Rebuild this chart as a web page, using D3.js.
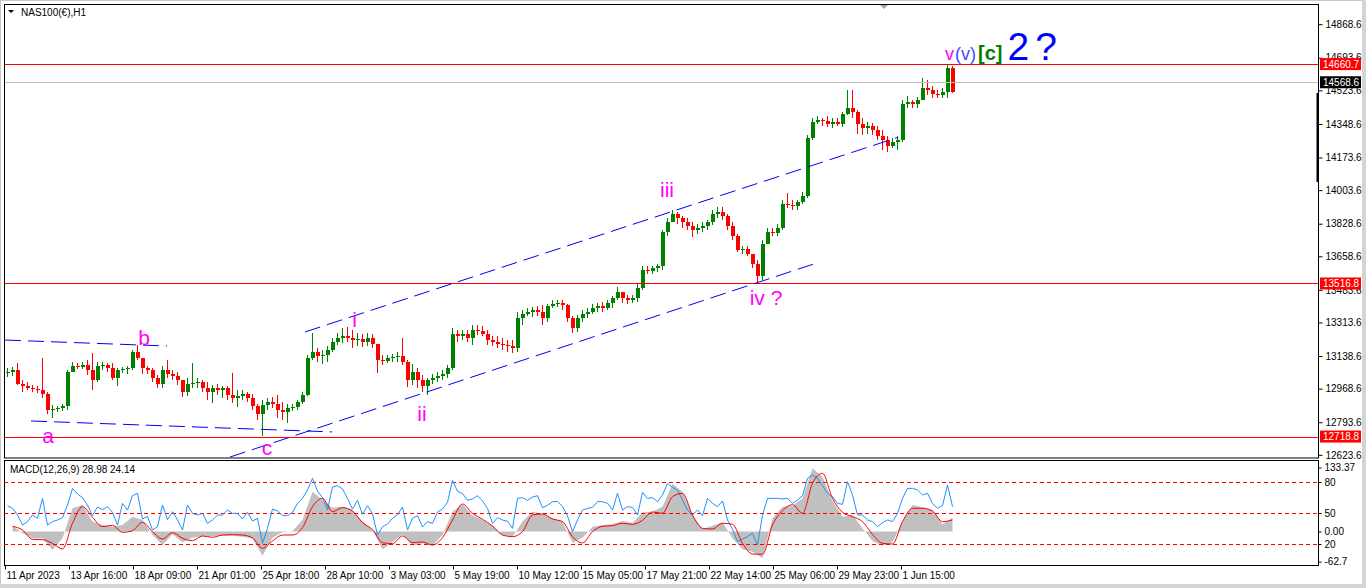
<!DOCTYPE html>
<html><head><meta charset="utf-8">
<script src="https://cdn.jsdelivr.net/npm/d3@7"></script>
<style>
body{margin:0;background:#fff;overflow:hidden;}
svg{display:block;font-family:"Liberation Sans",Arial,sans-serif;}
</style>
</head><body>
<svg id="c" width="1366" height="588"></svg>
<script>
// ---------------- DATA ----------------
const symbolTitle = "NAS100(€),H1";
const macdTitle = "MACD(12,26,9) 28.98 24.14";
const hoursPerBar = 5;
const firstOpen = 13055;
const highs = [
13076,13081,13102,13014,13003,12988,12982,13128,12951,12883,
12878,12889,13066,13108,13102,13108,13118,13154,13108,13108,
13102,13102,13076,13081,13087,13170,13196,13118,13087,13076,
13040,13087,13118,13066,13055,13014,13024,13102,13024,13014,
13003,12988,12993,12982,12982,13050,12962,12962,12951,12941,
12889,12909,12920,12925,12935,12899,12889,12889,12909,12951,
13144,13259,13180,13170,13191,13233,13259,13285,13290,13274,
13259,13253,13259,13253,13201,13144,13144,13149,13160,13233,
13118,13097,13076,13040,13024,13045,13055,13066,13092,13285,
13274,13274,13274,13300,13300,13295,13274,13243,13243,13233,
13222,13222,13368,13379,13389,13394,13399,13405,13410,13431,
13431,13431,13410,13347,13353,13379,13389,13410,13415,13420,
13431,13452,13499,13472,13457,13457,13519,13608,13608,13608,
13619,13796,13858,13900,13890,13869,13858,13837,13827,13837,
13848,13900,13916,13916,13879,13837,13775,13712,13712,13671,
13639,13744,13806,13806,13827,13952,13989,13952,13952,13994,
14291,14380,14390,14380,14390,14380,14380,14411,14526,14526,
14421,14380,14359,14354,14338,14317,14286,14275,14286,14474,
14494,14474,14489,14588,14578,14547,14526,14536,14660,14650];
const lows = [
13029,13034,12988,12951,12962,12951,12946,12920,12836,12816,
12847,12852,12857,13055,13071,13071,13040,12962,13003,13066,
13055,13014,12982,13050,13045,13066,13118,13045,13045,13003,
12972,12972,13024,13014,12988,12925,12930,12972,12972,12951,
12909,12894,12935,12920,12909,12894,12873,12909,12899,12857,
12805,12722,12857,12868,12816,12805,12789,12852,12857,12889,
12930,13118,13108,13097,13108,13160,13196,13207,13212,13180,
13191,13186,13191,13180,13050,13092,13102,13108,13108,13092,
12977,12988,12972,12951,12935,12993,13003,13014,13024,13066,
13212,13222,13212,13196,13248,13243,13196,13191,13180,13170,
13160,13154,13160,13300,13347,13342,13347,13300,13316,13389,
13394,13379,13316,13259,13264,13316,13337,13358,13368,13368,
13379,13389,13431,13415,13410,13415,13420,13483,13566,13566,
13577,13587,13764,13837,13827,13806,13796,13759,13775,13785,
13796,13822,13858,13848,13796,13744,13681,13671,13660,13598,
13519,13535,13744,13764,13764,13796,13910,13900,13900,13931,
13963,14265,14348,14338,14333,14328,14338,14333,14395,14380,
14296,14291,14296,14291,14265,14213,14202,14223,14213,14255,
14432,14432,14432,14474,14500,14484,14484,14484,14484,14510];
const closes = [
13055,13066,12993,12982,12972,12967,12962,12941,12857,12862,
12868,12878,13055,13087,13082,13092,13066,13014,13087,13092,
13076,13024,13066,13071,13076,13160,13128,13076,13066,13024,
12993,13066,13045,13034,13014,12951,12993,12998,13003,12972,
12951,12972,12962,12972,12935,12920,12930,12941,12920,12878,
12836,12883,12899,12889,12857,12847,12868,12873,12899,12935,
13128,13160,13139,13144,13170,13212,13233,13243,13233,13222,
13227,13212,13233,13201,13118,13113,13128,13134,13139,13108,
13014,13055,13014,12982,13014,13024,13034,13045,13076,13253,
13243,13253,13233,13274,13269,13253,13222,13212,13201,13196,
13191,13180,13337,13358,13368,13379,13368,13337,13399,13410,
13415,13405,13337,13285,13337,13358,13368,13389,13399,13389,
13415,13441,13472,13441,13431,13441,13493,13587,13582,13598,
13608,13785,13837,13879,13858,13837,13817,13796,13806,13817,
13837,13879,13890,13869,13817,13764,13692,13697,13671,13619,
13556,13723,13785,13780,13806,13931,13926,13921,13942,13973,
14275,14359,14369,14364,14348,14359,14348,14401,14432,14411,
14348,14328,14338,14317,14286,14265,14234,14255,14265,14453,
14463,14453,14474,14536,14526,14505,14500,14515,14640,14515];

const timeLabels = ["11 Apr 2023","13 Apr 16:00","18 Apr 09:00","21 Apr 01:00","25 Apr 18:00","28 Apr 10:00","3 May 03:00","5 May 19:00","10 May 12:00","15 May 05:00","17 May 21:00","22 May 14:00","25 May 06:00","29 May 23:00","1 Jun 15:00"];
const timeTickHours = [0,64,128,192,256,320,384,448,512,576,640,704,768,832,896];
const priceTicks = [14868.6,14693.6,14523.6,14348.6,14173.6,14003.6,13828.6,13658.6,13483.6,13313.6,13138.6,12968.6,12793.6,12623.6];
const levelPrices = [14660.7,13516.8,12718.8];
const bidPrice = 14568.6;

const macdStepHours = 10;
const macdFirstHour = 7.5;
const macdHist = [
12.2,-3.8,-14.2,-14.2,-38.5,-14.2,48.3,55.3,20.6,13.6,
10.1,13.6,31.0,24.0,-7.3,-28.1,-5.9,-22.5,-12.8,-9.3,
-9.3,-8.6,-8.6,-10.7,-14.2,-50.3,-12.8,-1.7,1.1,24.0,
83.0,65.7,49.7,51.8,44.8,20.6,3.2,-37.1,-22.5,-5.9,
-29.5,-24.6,-29.5,-7.3,41.4,56.6,33.1,24.0,12.2,-7.3,
-10.7,20.6,41.4,35.8,27.5,20.6,-23.2,-12.8,10.1,13.6,
15.0,21.9,17.7,40.0,41.4,51.8,99.7,83.0,34.4,5.2,
12.2,19.2,-14.2,-37.1,-42.0,-55.9,27.5,51.8,53.2,69.1,
131.6,114.3,63.6,31.0,34.4,6.6,-19.7,-29.5,-22.5,20.6,
55.3,50.4,44.8,15.0,29.0];
const macdSignal = [
10.8,3.2,-16.3,-17.0,-24.6,-36.4,17.1,51.8,29.6,10.1,
12.9,-1.7,1.8,19.2,-0.3,-15.6,-2.4,-14.2,-19.0,-9.3,
-12.1,-7.3,-6.6,-7.3,-13.5,-35.0,-19.7,-7.3,-7.3,8.0,
51.8,69.1,41.4,49.7,42.7,18.5,3.9,-23.2,-25.3,-9.3,
-23.2,-21.8,-28.1,-12.8,24.0,57.3,37.9,25.4,11.5,-7.3,
-10.7,-0.3,34.4,36.5,26.1,20.6,-10.7,-23.9,-0.3,10.8,
12.2,17.1,15.0,23.3,40.7,37.9,72.6,79.5,34.4,6.6,
5.2,17.1,15.0,-24.6,-46.8,-47.5,13.6,43.4,55.9,37.9,
100.4,121.2,69.1,39.9,31.0,20.6,-5.9,-24.6,-26.0,20.6,
48.3,48.3,42.7,20.6,24.1];
const oscValues = [
57.1,54.6,48.1,38.4,41.7,48.1,44.9,64.2,38.4,41.7,
43.3,45.5,57.8,73.9,68.4,64.9,57.8,47.5,55.9,53.3,
56.2,50.7,38.4,59.4,52.9,66.8,69.1,44.2,46.8,33.6,
36.8,57.8,43.6,51.3,43.3,33.6,57.8,49.7,48.1,49.7,
40.0,43.3,48.1,48.1,52.9,49.7,49.7,44.2,50.7,42.3,
44.9,20.7,35.2,53.9,52.0,47.5,47.5,50.7,59.4,64.2,
72.3,83.6,71.3,64.9,52.9,75.2,76.5,73.3,64.2,53.9,
62.3,48.8,57.1,49.4,28.7,36.8,39.4,44.9,48.4,55.9,
33.6,44.9,47.5,36.5,41.7,40.0,51.0,53.9,60.4,81.7,
71.0,68.8,62.3,63.6,66.8,61.7,54.6,40.0,45.5,43.3,
42.0,35.2,64.2,64.9,62.3,65.5,66.8,55.2,57.5,61.0,
61.3,56.5,47.1,32.0,43.3,52.9,54.6,55.5,61.0,61.0,
59.4,52.9,69.1,52.9,56.2,55.5,48.1,70.1,64.2,64.9,
61.0,67.5,78.8,74.9,72.3,62.6,52.9,48.1,52.9,47.5,
64.2,59.4,56.2,61.7,43.3,34.6,22.3,24.9,27.1,30.4,
19.1,48.1,64.2,64.2,64.2,63.6,64.2,59.4,62.6,66.8,
83.6,86.8,83.6,76.5,69.1,65.9,59.4,58.4,80.4,67.5,
48.1,48.1,43.3,41.7,36.8,40.7,43.3,41.7,49.7,64.2,
73.9,73.9,72.3,67.5,69.1,59.4,54.6,57.1,77.2,56.2];
const oscLevels = [80,50,20];
const macdTickValues = [133.37,0,-62.7];
const macdTickLabels = ["133.37","0.00","-62.7"];

// annotations (data coordinates: hour index, price)
const trendLines = [
  {h1:300,p1:13264,h2:893,p2:14279},
  {h1:225,p1:12612,h2:809,p2:13619},
  {h1:0,p1:13222,h2:162,p2:13191},
  {h1:26,p1:12800,h2:327,p2:12743}
];
const waveLabels = [
  {t:"a",h:43,p:12685},{t:"b",h:139,p:13196},{t:"c",h:262,p:12623},
  {t:"i",h:349.5,p:13290},{t:"ii",h:417,p:12800},{t:"iii",h:662,p:13968},
  {t:"iv ?",h:761,p:13405}
];
const topLabel = {h:940,p:14682};

// ---------------- CHART ----------------
const W=1366,H=588;
const L=4,R=1318,T=4,B=458,MT=460,MB=565;
const GREEN="#008000",RED="#ff0000";
const svg=d3.select("#c");
svg.append("rect").attr("width",W).attr("height",H).attr("fill","#fff");

const xScale=d3.scaleLinear().domain([0,1313]).range([5,1318]);
const yScale=d3.scaleLinear().domain([12607,14974]).range([458,4]);
const macdY=d3.scaleLinear().domain([-62.7,133.37]).range([561.6,467.5]);
const oscY=d3.scaleLinear().domain([0,100]).range([564.7,461.4]);

const defs=svg.append("defs");
defs.append("clipPath").attr("id","cm").append("rect").attr("x",L).attr("y",T).attr("width",R-L).attr("height",B-T);
defs.append("clipPath").attr("id","cd").append("rect").attr("x",L).attr("y",MT).attr("width",R-L).attr("height",MB-MT);

// candles
const bars=closes.map((c,i)=>({i,o:i?closes[i-1]:firstOpen,h:highs[i],l:lows[i],c}));
const cx=d=>xScale(d.i*hoursPerBar+hoursPerBar/2);
const gMain=svg.append("g").attr("clip-path","url(#cm)");
const gC=gMain.append("g").attr("shape-rendering","crispEdges");
gC.selectAll("line").data(bars).join("line")
  .attr("x1",cx).attr("x2",cx)
  .attr("y1",d=>yScale(Math.max(d.h,d.o,d.c)))
  .attr("y2",d=>yScale(Math.min(d.l,d.o,d.c)))
  .attr("stroke",d=>d.c>=d.o?GREEN:RED).attr("stroke-width",1);
gC.selectAll("rect").data(bars).join("rect")
  .attr("x",d=>cx(d)-1.5).attr("width",4)
  .attr("y",d=>yScale(Math.max(d.o,d.c)))
  .attr("height",d=>Math.max(1,yScale(Math.min(d.o,d.c))-yScale(Math.max(d.o,d.c))))
  .attr("fill",d=>d.c>=d.o?GREEN:RED);

// level lines
gMain.selectAll("line.lvl").data(levelPrices).join("line").attr("class","lvl")
  .attr("x1",L).attr("x2",R).attr("y1",d=>Math.round(yScale(d))+0.5).attr("y2",d=>Math.round(yScale(d))+0.5)
  .attr("stroke",RED).attr("stroke-width",1);
gMain.append("line").attr("x1",L).attr("x2",R)
  .attr("y1",Math.round(yScale(bidPrice))+0.5).attr("y2",Math.round(yScale(bidPrice))+0.5)
  .attr("stroke","#c0c0c0").attr("stroke-width",1);

// trend lines
gMain.selectAll("line.tl").data(trendLines).join("line").attr("class","tl")
  .attr("x1",d=>xScale(d.h1)).attr("y1",d=>yScale(d.p1))
  .attr("x2",d=>xScale(d.h2)).attr("y2",d=>yScale(d.p2))
  .attr("stroke","#0000ff").attr("stroke-width",1).attr("stroke-dasharray","16,7");

// wave labels
gMain.selectAll("text.w").data(waveLabels).join("text").attr("class","w")
  .attr("x",d=>xScale(d.h)).attr("y",d=>yScale(d.p))
  .attr("text-anchor","middle").attr("font-size",21).attr("fill","#ff00ff").text(d=>d.t);
const tl=gMain.append("text").attr("x",xScale(topLabel.h)).attr("y",yScale(topLabel.p));
tl.append("tspan").attr("fill","#ff00ff").attr("font-size",18).text("v");
tl.append("tspan").attr("fill","#4848ff").attr("font-size",18).attr("dx",1).text("(v)");
tl.append("tspan").attr("fill","#008000").attr("font-size",20).attr("font-weight","bold").attr("dx",2).text("[c]");
tl.append("tspan").attr("fill","#0000ff").attr("font-size",39).attr("dx",5).text("2");
tl.append("tspan").attr("fill","#0000ff").attr("font-size",39).attr("dx",6).text("?");

// borders main
svg.append("rect").attr("x",L+0.5).attr("y",T+0.5).attr("width",R-L).attr("height",B-T-0.5)
  .attr("fill","none").attr("stroke","#000").attr("stroke-width",1);
svg.append("rect").attr("x",L+0.5).attr("y",MT+0.5).attr("width",R-L).attr("height",MB-MT)
  .attr("fill","none").attr("stroke","#000").attr("stroke-width",1);

// title
svg.append("path").attr("d","M8,10 L14,10 L11,13 Z").attr("fill","#000");
svg.append("text").attr("x",21).attr("y",16).attr("font-size",10).attr("fill","#000").text(symbolTitle);
// chart-shift marker
svg.append("path").attr("d","M880,5 L888,5 L884,9 Z").attr("fill","#a8a8a8");

// price axis
const yAxis=d3.axisRight(yScale).tickValues(priceTicks).tickSize(4).tickSizeOuter(0).tickPadding(3).tickFormat(d3.format(".1f"));
const gy=svg.append("g").attr("transform",`translate(${R+0.5},0)`).call(yAxis);
gy.select(".domain").remove();
gy.selectAll("text").attr("font-size",10).attr("font-family","Liberation Sans, Arial, sans-serif").attr("fill","#000");
// black marker bar on axis
svg.append("rect").attr("x",1316.5).attr("y",93).attr("width",2.5).attr("height",89).attr("fill","#000");

// level labels
const lbl=svg.append("g");
levelPrices.forEach(p=>{
  const y=yScale(p);
  lbl.append("rect").attr("x",1320).attr("y",y-6).attr("width",41).attr("height",12).attr("fill",RED);
  lbl.append("text").attr("x",1323).attr("y",y+3.5).attr("font-size",10).attr("fill","#fff").text(p.toFixed(1));
});
{
  const y=yScale(bidPrice);
  lbl.append("rect").attr("x",1320).attr("y",y-5.5).attr("width",41).attr("height",12).attr("fill","#000");
  lbl.append("text").attr("x",1323).attr("y",y+4).attr("font-size",10).attr("fill","#fff").text(bidPrice.toFixed(1));
}

// MACD panel
const gM=svg.append("g").attr("clip-path","url(#cd)");
const mx=(d,i)=>xScale(macdFirstHour+i*macdStepHours);
gM.append("path").datum(macdHist)
  .attr("d",d3.area().x(mx).y0(macdY(0)).y1(d=>macdY(d)))
  .attr("fill","#c0c0c0");
gM.selectAll("line.ol").data(oscLevels).join("line").attr("class","ol")
  .attr("x1",L).attr("x2",R).attr("y1",d=>Math.round(oscY(d))+0.5).attr("y2",d=>Math.round(oscY(d))+0.5)
  .attr("stroke",RED).attr("stroke-width",1).attr("stroke-dasharray","4,3");
gM.append("path").datum(oscValues)
  .attr("d",d3.line().x((d,i)=>xScale(i*hoursPerBar+hoursPerBar/2)).y(d=>oscY(d)))
  .attr("fill","none").attr("stroke","#1e90ff").attr("stroke-width",1);
gM.append("path").datum(macdSignal)
  .attr("d",d3.line().x(mx).y(d=>macdY(d)).curve(d3.curveMonotoneX))
  .attr("fill","none").attr("stroke",RED).attr("stroke-width",1);
svg.append("text").attr("x",10).attr("y",473).attr("font-size",10).attr("fill","#000").text(macdTitle);

// MACD axes
const mAxis=d3.axisRight(macdY).tickValues(macdTickValues).tickSize(3).tickSizeOuter(0).tickPadding(3)
  .tickFormat((d,i)=>macdTickLabels[i]);
const gma=svg.append("g").attr("transform",`translate(${R+0.5},0)`).call(mAxis);
gma.select(".domain").remove();
const oAxis=d3.axisRight(oscY).tickValues(oscLevels).tickSize(3).tickSizeOuter(0).tickPadding(3).tickFormat(d3.format("d"));
const goa=svg.append("g").attr("transform",`translate(${R+0.5},0)`).call(oAxis);
goa.select(".domain").remove();
svg.selectAll(".tick text").attr("font-size",10).attr("font-family","Liberation Sans, Arial, sans-serif").attr("fill","#000");

// time axis
const xAxis=d3.axisBottom(xScale).tickValues(timeTickHours).tickSize(4).tickSizeOuter(0).tickPadding(2)
  .tickFormat((d,i)=>timeLabels[i]);
const gx=svg.append("g").attr("transform",`translate(0,${MB+0.5})`).call(xAxis);
gx.select(".domain").remove();
gx.selectAll("text").attr("text-anchor","start").attr("dx",1).attr("font-size",10)
  .attr("font-family","Liberation Sans, Arial, sans-serif").attr("fill","#000");

// window frame
svg.append("rect").attr("x",0).attr("y",0).attr("width",W).attr("height",1).attr("fill","#c8c8c8");
svg.append("rect").attr("x",0).attr("y",0).attr("width",1).attr("height",H).attr("fill","#c8c8c8");
svg.append("rect").attr("x",1362).attr("y",0).attr("width",4).attr("height",H).attr("fill","#d4d4d4");
svg.append("rect").attr("x",0).attr("y",584).attr("width",W).attr("height",4).attr("fill","#d4d4d4");
</script>
</body></html>
